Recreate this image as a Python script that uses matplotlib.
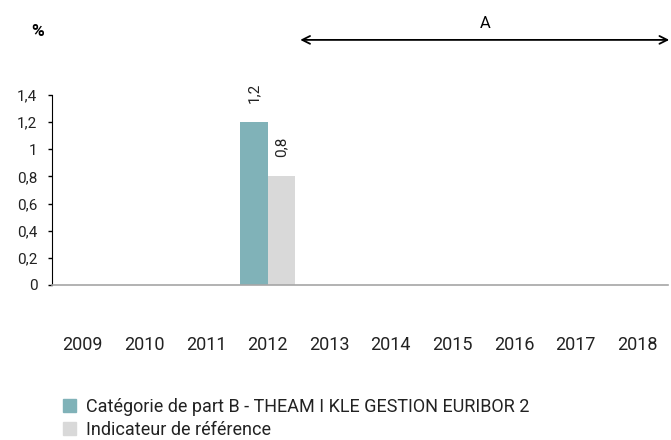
import matplotlib.pyplot as plt
import matplotlib.patches as mpatches
import numpy as np

plt.rcParams['font.family'] = ['Roboto', 'DejaVu Sans']

# données
annees = ['2009', '2010', '2011', '2012', '2013', '2014', '2015', '2016', '2017', '2018']
part_b = [None, None, None, 1.2, None, None, None, None, None, None]
indicateur = [None, None, None, 0.8, None, None, None, None, None, None]
yticks = [0, 0.2, 0.4, 0.6, 0.8, 1.0, 1.2, 1.4]
ytick_labels = ['0', '0,2', '0,4', '0,6', '0,8', '1', '1,2', '1,4']
label_b = 'Catégorie de part B - THEAM I KLE GESTION EURIBOR 2'
label_ref = 'Indicateur de référence'

c_b = '#80b2b8'
c_ref = '#d9d9d9'
c_txt = '#222222'

fig = plt.figure(figsize=(6.71, 4.40), dpi=100)
ax = fig.add_axes([52/671, 1-285/440, 616/671, 190/440])

x = np.arange(len(annees))
w = 0.44
for i in range(len(annees)):
    if part_b[i] is not None:
        ax.bar(x[i] - w/2, part_b[i], w, color=c_b)
        ax.annotate(f"{part_b[i]:.1f}".replace('.', ','), (x[i] - w/2, part_b[i]),
                    xytext=(0, 14), textcoords='offset points', rotation=90,
                    ha='center', va='bottom', fontsize=11, color=c_txt)
    if indicateur[i] is not None:
        ax.bar(x[i] + w/2, indicateur[i], w, color=c_ref)
        ax.annotate(f"{indicateur[i]:.1f}".replace('.', ','), (x[i] + w/2, indicateur[i]),
                    xytext=(0, 14), textcoords='offset points', rotation=90,
                    ha='center', va='bottom', fontsize=11, color=c_txt)

ax.set_xlim(-0.5, len(annees) - 0.5)
ax.set_ylim(0, 1.4)
ax.set_xticks(x)
ax.set_xticklabels(annees, fontsize=13, color=c_txt)
ax.tick_params(axis='x', length=0, pad=37)
ax.set_yticks(yticks)
ax.set_yticklabels(ytick_labels, fontsize=11, color=c_txt)
ax.tick_params(axis='y', length=3, width=1, pad=7.5, direction='out')

for s in ['top', 'right']:
    ax.spines[s].set_visible(False)
ax.spines['left'].set_color('black')
ax.spines['bottom'].set_color('#a6a6a6')
ax.spines['bottom'].set_linewidth(1.2)

# flèche période A
tr = ax.get_xaxis_transform()
ax.annotate('', xy=(3.53, 1.29), xytext=(9.52, 1.29), xycoords=tr, textcoords=tr,
            arrowprops=dict(arrowstyle='<->', color='black', lw=1.3,
                            shrinkA=0, shrinkB=0, mutation_scale=14),
            annotation_clip=False)
ax.text(6.53, 1.375, 'A', transform=tr, ha='center', va='center', fontsize=12)

fig.text(38/671, 1-31/440, '%', ha='center', va='center', fontsize=12.5, fontweight='bold')

handles = [mpatches.Patch(color=c_b, label=label_b),
           mpatches.Patch(color=c_ref, label=label_ref)]
fig.legend(handles=handles, loc='upper left', bbox_to_anchor=(63/671, 1-398/440),
           frameon=False, fontsize=13, handlelength=0.72, handleheight=0.72,
           handletextpad=0.55, labelspacing=0.25, borderpad=0, borderaxespad=0,
           labelcolor=c_txt)

fig.savefig('out.png', dpi=100)
